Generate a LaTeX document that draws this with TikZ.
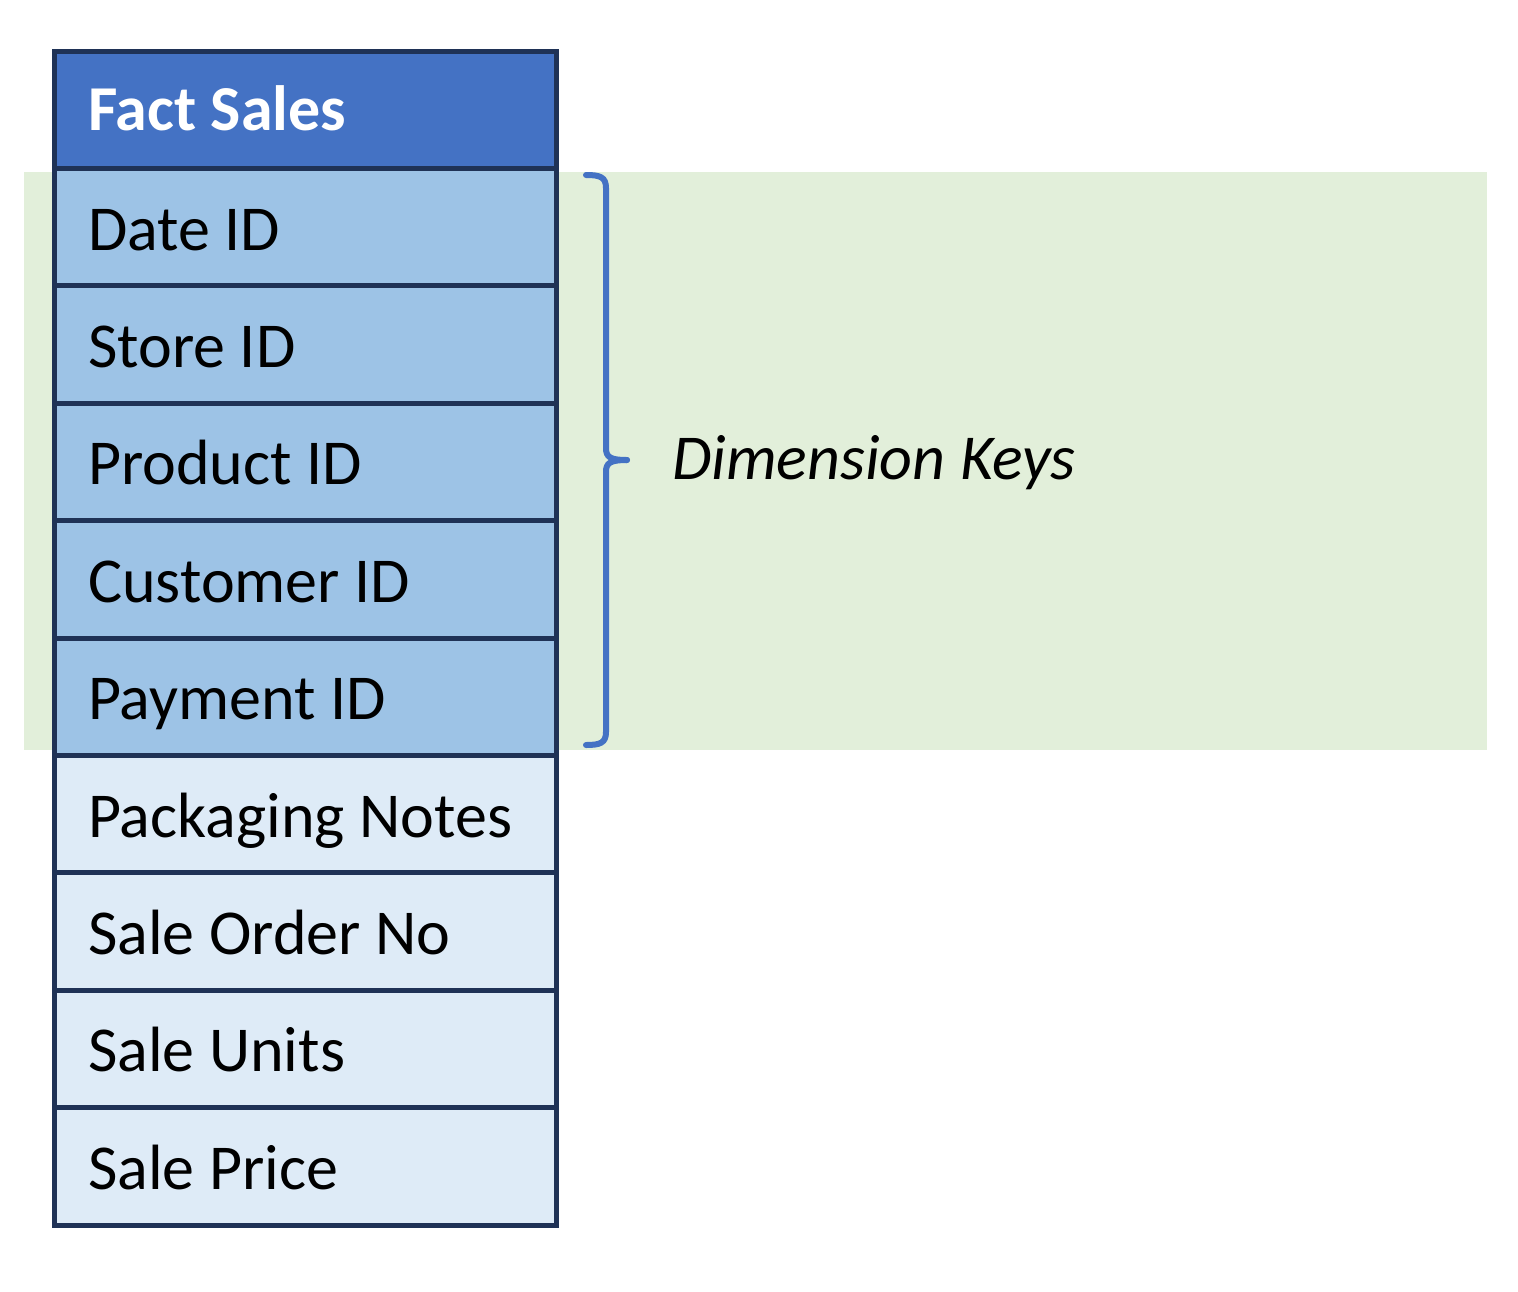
\documentclass[tikz,border=0pt]{standalone}
\usepackage{fontspec}
\setmainfont{Carlito}
\definecolor{hdr}{HTML}{4472C4}
\definecolor{keyrow}{HTML}{9DC3E6}
\definecolor{plainrow}{HTML}{DEEBF7}
\definecolor{edge}{HTML}{1F3256}
\definecolor{band}{HTML}{E2EFDA}
\begin{document}
\begin{tikzpicture}[x=1pt,y=-1pt,
  cell/.style={draw=edge,line width=5pt,minimum width=502pt,minimum height=117.4pt,inner sep=0pt,outer sep=0pt,anchor=north west},
  celltext/.style={anchor=base west,inner sep=0pt,font=\fontsize{64}{76}\selectfont},
  bracket/.style={draw=hdr,line width=6pt,line cap=round}]
\useasboundingbox (0,0) rectangle (1518,1291);
\fill[band] (24,172) rectangle (1487,750);
\node[cell,fill=hdr] (h) at (54,51) {};
\foreach \i/\c in {1/keyrow,2/keyrow,3/keyrow,4/keyrow,5/keyrow,6/plainrow,7/plainrow,8/plainrow,9/plainrow}{
  \node[cell,fill=\c] (r\i) at (54,51+117.4*\i) {};
}
\node[celltext,text=white,font=\fontsize{64}{76}\selectfont\bfseries] (th) at (88,130) {Fact Sales};
\foreach \i/\t in {1/Date ID,2/Store ID,3/Product ID,4/Customer ID,5/Payment ID,6/Packaging Notes,7/Sale Order No,8/Sale Units,9/Sale Price}{
  \node[celltext] (t\i) at (88,250+117.4*\i-117.4) {\t};
}
\coordinate (bt) at (586,175);
\coordinate (bm) at (627,460);
\coordinate (bb) at (586,745);
\draw[bracket] (bt) .. controls (600,175) and (606,177) .. (606,188) -- (606,448) .. controls (606,457) and (610,460) .. (bm);
\draw[bracket] (bm) .. controls (610,460) and (606,463) .. (606,472) -- (606,732) .. controls (606,743) and (600,745) .. (bb);
\node[anchor=base west,inner sep=0pt,font=\fontsize{64}{76}\selectfont\itshape] (dk) at (672,479) {Dimension Keys};
\end{tikzpicture}
\end{document}
